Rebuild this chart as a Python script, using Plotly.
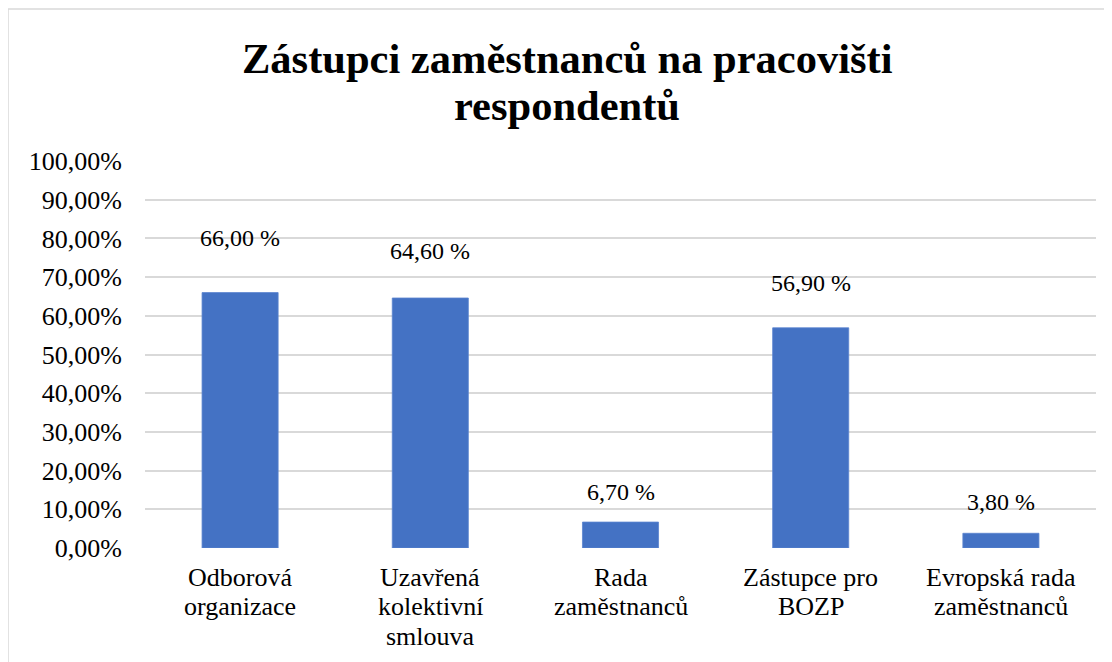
import plotly.graph_objects as go

categories = ["Odborová organizace", "Uzavřená kolektivní smlouva", "Rada zaměstnanců",
              "Zástupce pro BOZP", "Evropská rada zaměstnanců"]
category_lines = [["Odborová", "organizace"], ["Uzavřená", "kolektivní", "smlouva"],
                  ["Rada", "zaměstnanců"], ["Zástupce pro", "BOZP"], ["Evropská rada", "zaměstnanců"]]
values = [66.0, 64.6, 6.7, 56.9, 3.8]
value_labels = ["66,00 %", "64,60 %", "6,70 %", "56,90 %", "3,80 %"]
y_ticks = [0, 10, 20, 30, 40, 50, 60, 70, 80, 90, 100]
y_tick_labels = ["0,00%", "10,00%", "20,00%", "30,00%", "40,00%", "50,00%",
                 "60,00%", "70,00%", "80,00%", "90,00%", "100,00%"]
title_lines = ["Zástupci zaměstnanců na pracovišti", "respondentů"]
label_offsets = [55, 47, 30, 45, 31]  # pixel offset of label centre above bar top

FONT = "Liberation Serif"

fig = go.Figure()
fig.add_trace(go.Bar(
    x=categories, y=values, width=0.4,
    marker=dict(color="#4472C4", line=dict(color="#5b84cf", width=0.8)),
    hoverinfo="skip",
))

# data labels
for c, v, t, off in zip(categories, values, value_labels, label_offsets):
    fig.add_annotation(x=c, y=v, text=t, showarrow=False, yanchor="middle",
                       yshift=off, font=dict(family=FONT, size=24))

# category labels, one annotation per line for Excel-like line spacing
for c, lines in zip(categories, category_lines):
    for i, ln in enumerate(lines):
        fig.add_annotation(x=c, xref="x", yref="paper", y=0, text=ln, showarrow=False,
                           yanchor="middle", yshift=-(29 + i * 29.5),
                           font=dict(family=FONT, size=26))

# title lines (centred on the whole chart, window x ~567; plot area spans window 145..1096 x, 161..548 y)
for line, yc in zip(title_lines, [59, 105]):
    fig.add_annotation(xref="paper", yref="paper", x=(567 - 145) / 951, y=(548 - yc) / 387,
                       xanchor="center", yanchor="middle", showarrow=False,
                       text="<b>" + line + "</b>",
                       font=dict(family=FONT, size=42.5))

fig.update_layout(
    width=1112, height=662,
    font=dict(family=FONT, color="#000000"),
    margin=dict(l=137, r=24, t=153, b=122),
    paper_bgcolor="#ffffff", plot_bgcolor="#ffffff",
    showlegend=False,
    xaxis=dict(showticklabels=False, showgrid=False, showline=False, zeroline=False, ticks=""),
    yaxis=dict(range=[0, 100], tickmode="array", tickvals=y_ticks, ticktext=y_tick_labels,
               tickfont=dict(family=FONT, size=26),
               showgrid=True, gridcolor="#d9d9d9", gridwidth=1.5,
               zeroline=False, showline=False, ticks="", ticklabelstandoff=22),
)

# chart border (top and left edges visible)
fig.add_shape(type="rect", xref="paper", yref="paper",
              x0=(8 - 145) / 951, x1=1.2, y0=-0.6, y1=(548 - 9) / 387,
              line=dict(color="#d9d9d9", width=1.5), fillcolor="rgba(0,0,0,0)", layer="below")

fig.write_html("out.html")
